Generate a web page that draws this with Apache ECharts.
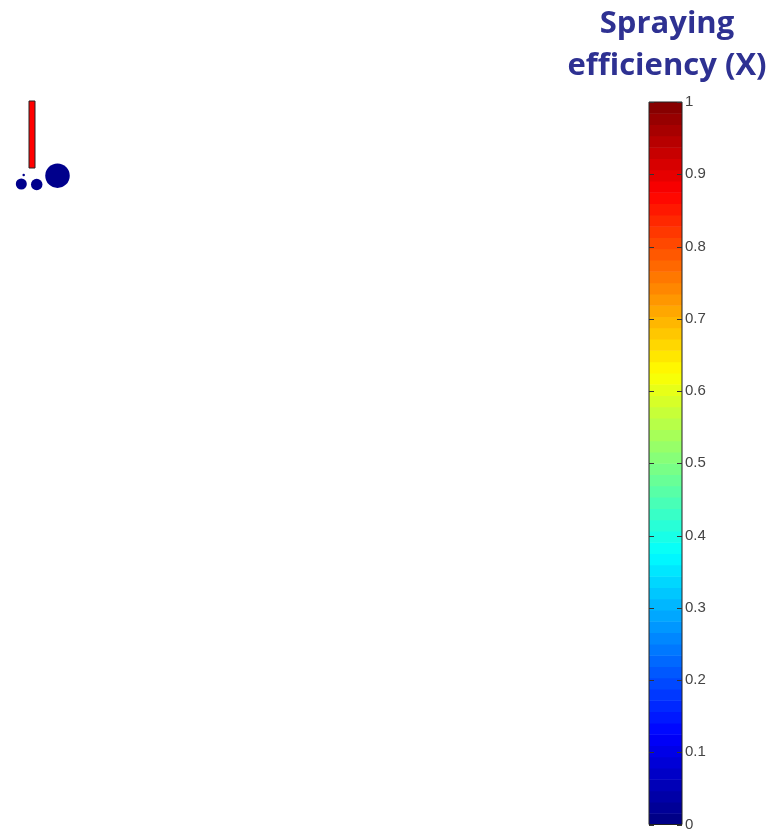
<!DOCTYPE html>
<html>
<head>
<meta charset="utf-8">
<script src="https://cdn.jsdelivr.net/npm/echarts@6/dist/echarts.min.js"></script>
<style>
  html, body { margin: 0; padding: 0; background: #fff; }
  #chart { width: 778px; height: 832px; }
</style>
</head>
<body>
<div id="chart"></div>
<script>
// droplets: [x, y, diameter]
const droplets = [
    [23.7, 85, 2.5],
    [21.3, 94, 11],
    [36.7, 94.5, 11.5],
    [57.5, 85.7, 24.5],
];
// nozzle: [x0, x1, yTop, yBottom]
const nozzle = [[29, 35, 11, 78]];
const barTicks = [0, 0.1, 0.2, 0.3, 0.4, 0.5, 0.6, 0.7, 0.8, 0.9, 1];
const LEVELS = 64;
const TITLE = 'Spraying\nefficiency (X)';

function jet(x) {
    const c = v => Math.round(255 * Math.max(0, Math.min(1, v)));
    return 'rgb(' + c(1.5 - Math.abs(4 * x - 3)) + ',' + c(1.5 - Math.abs(4 * x - 2)) + ',' + c(1.5 - Math.abs(4 * x - 1)) + ')';
}

const bands = [];
for (let i = 0; i < LEVELS; i++) bands.push([i / LEVELS, (i + 1) / LEVELS]);

const TICK_LEN = 5;

const chart = echarts.init(document.getElementById('chart'));
chart.setOption({
    animation: false,
    title: {
        text: TITLE,
        left: 662,
        top: -2,
        textAlign: 'center',
        textStyle: { fontFamily: 'Open Sans', fontWeight: 'bold', fontSize: 31, color: '#2E3192', lineHeight: 42 },
    },
    grid: [
        { left: 0, top: 90, width: 100, height: 120, show: false },
        { left: 649, top: 102, width: 33, height: 724, show: true, z: 4, borderColor: '#222', borderWidth: 1, backgroundColor: 'transparent' },
    ],
    xAxis: [
        { gridIndex: 0, type: 'value', min: 0, max: 100, show: false },
        { gridIndex: 1, type: 'value', min: 0, max: 1, show: false },
    ],
    yAxis: [
        { gridIndex: 0, type: 'value', min: 0, max: 120, inverse: true, show: false },
        {
            gridIndex: 1, type: 'value', min: 0, max: 1, interval: 0.1, position: 'right',
            axisLine: { show: false },
            axisTick: { show: false },
            axisLabel: { color: '#444', fontFamily: 'Arial', fontSize: 15, margin: 3 },
            splitLine: { show: false },
        },
    ],
    series: [
        {
            type: 'custom',
            xAxisIndex: 0, yAxisIndex: 0,
            data: nozzle,
            renderItem: (params, api) => {
                const p0 = api.coord([api.value(0), api.value(2)]);
                const p1 = api.coord([api.value(1), api.value(3)]);
                return {
                    type: 'rect',
                    shape: { x: p0[0], y: p0[1], width: p1[0] - p0[0], height: p1[1] - p0[1] },
                    style: { fill: '#FF0000', stroke: '#222', lineWidth: 1 },
                };
            },
        },
        {
            type: 'scatter',
            xAxisIndex: 0, yAxisIndex: 0,
            data: droplets,
            symbolSize: d => d[2],
            itemStyle: { color: '#00008C', opacity: 1 },
        },
        {
            type: 'custom',
            xAxisIndex: 1, yAxisIndex: 1, z: 1,
            data: bands,
            renderItem: (params, api) => {
                const lo = api.value(0), hi = api.value(1);
                const p0 = api.coord([0, hi]);
                const p1 = api.coord([1, lo]);
                return {
                    type: 'rect',
                    shape: { x: p0[0], y: p0[1], width: p1[0] - p0[0], height: p1[1] - p0[1] + 0.5 },
                    style: { fill: jet((lo + hi) / 2) },
                };
            },
        },
        {
            // inward tick marks on both edges of the colour bar
            type: 'custom',
            xAxisIndex: 1, yAxisIndex: 1, z: 6,
            data: barTicks.map(v => [v]),
            renderItem: (params, api) => {
                const l = api.coord([0, api.value(0)]);
                const r = api.coord([1, api.value(0)]);
                const y = Math.round(l[1]) + 0.5;
                const style = { stroke: '#333', lineWidth: 1 };
                return {
                    type: 'group',
                    children: [
                        { type: 'line', shape: { x1: l[0], y1: y, x2: l[0] + TICK_LEN, y2: y }, style },
                        { type: 'line', shape: { x1: r[0] - TICK_LEN, y1: y, x2: r[0], y2: y }, style },
                    ],
                };
            },
        },
    ],
});
</script>
</body>
</html>
